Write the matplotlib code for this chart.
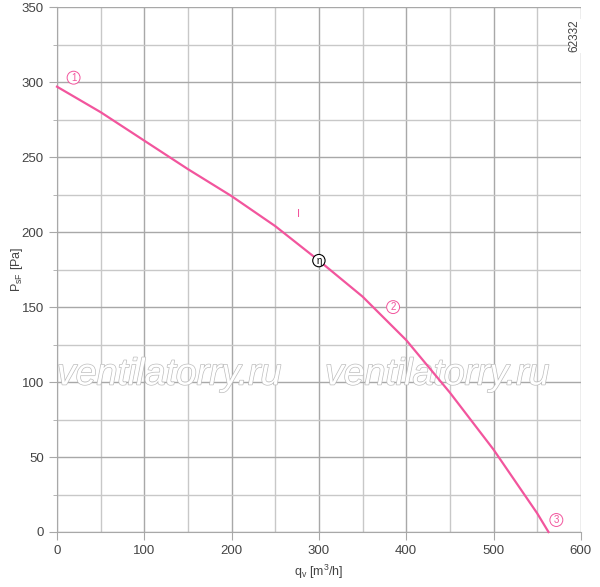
import matplotlib
matplotlib.use("Agg")
import matplotlib.pyplot as plt
import matplotlib.patheffects as pe
from matplotlib.ticker import MultipleLocator

# -----------------------------
# data
# -----------------------------
flow = [0, 50, 100, 150, 200, 250, 300, 350, 400, 450, 500, 550, 563]
pressure = [297, 280, 261, 242, 224, 204, 181, 157, 128, 93, 55, 12.5, 0]

x_ticks = [0, 100, 200, 300, 400, 500, 600]
y_ticks = [0, 50, 100, 150, 200, 250, 300, 350]

# point markers: label, x, y
markers = [("1", 19, 303), ("2", 385, 150), ("3", 572, 8)]
eta_point = (300, 181)

pink = "#f2559d"
grey_text = "#444444"

plt.rcParams["font.family"] = ["Liberation Sans", "DejaVu Sans"]

fig = plt.figure(figsize=(6.0, 5.87), dpi=100)
ax = fig.add_axes([0.095, 0.0937, 0.873, 0.894])

ax.set_xlim(0, 600)
ax.set_ylim(0, 350)
ax.set_xticks(x_ticks)
ax.set_yticks(y_ticks)
ax.xaxis.set_minor_locator(MultipleLocator(50))
ax.yaxis.set_minor_locator(MultipleLocator(25))

ax.grid(which="major", color="#a8a8a8", linewidth=1.0)
ax.grid(which="minor", color="#c8c8c8", linewidth=1.0)
ax.set_axisbelow(True)

for side in ["top", "right"]:
    ax.spines[side].set_visible(False)
for side in ["left", "bottom"]:
    ax.spines[side].set_color("#a8a8a8")

ax.tick_params(which="major", length=6, color="#a8a8a8", labelcolor=grey_text,
               labelsize=9.5)
ax.tick_params(axis="y", which="minor", length=3, color="#a8a8a8")
ax.tick_params(axis="x", which="minor", length=0)

ax.set_xlabel("q$_\\mathregular{v}$ [m$^\\mathregular{3}$/h]", color=grey_text,
              fontsize=9, labelpad=4)
ax.set_ylabel("P$_\\mathregular{sF}$ [Pa]", color=grey_text, fontsize=9)
ax.yaxis.set_label_coords(-0.062, 0.5)

# watermark
for wx in [0, 307]:
    ax.text(wx, 105, "ventilatorry.ru", fontsize=27, style="italic",
            color="white", va="center", ha="left", zorder=1,
            path_effects=[pe.Stroke(linewidth=1.0, foreground="#bdbdbd"),
                          pe.Normal()])

ax.plot(flow, pressure, color=pink, linewidth=1.6, zorder=3, clip_on=False)

for label, mx, my in markers:
    ax.text(mx, my, label, color=pink, fontsize=7, ha="center", va="center",
            zorder=4,
            bbox=dict(boxstyle="circle,pad=0.15", fc="white", ec=pink, lw=0.7))

ax.text(eta_point[0], eta_point[1], "η", color="black", fontsize=7,
        ha="center", va="center", zorder=4,
        bbox=dict(boxstyle="circle,pad=0.12", fc="white", ec="black", lw=0.8))

ax.text(277, 212, "I", color=pink, fontsize=8, ha="center", va="center")

ax.text(593, 331, "62332", rotation=90, color=grey_text, fontsize=8.5,
        ha="center", va="center", zorder=4,
        bbox=dict(fc="white", ec="none", pad=0.5))

fig.savefig("out.png", dpi=100)
